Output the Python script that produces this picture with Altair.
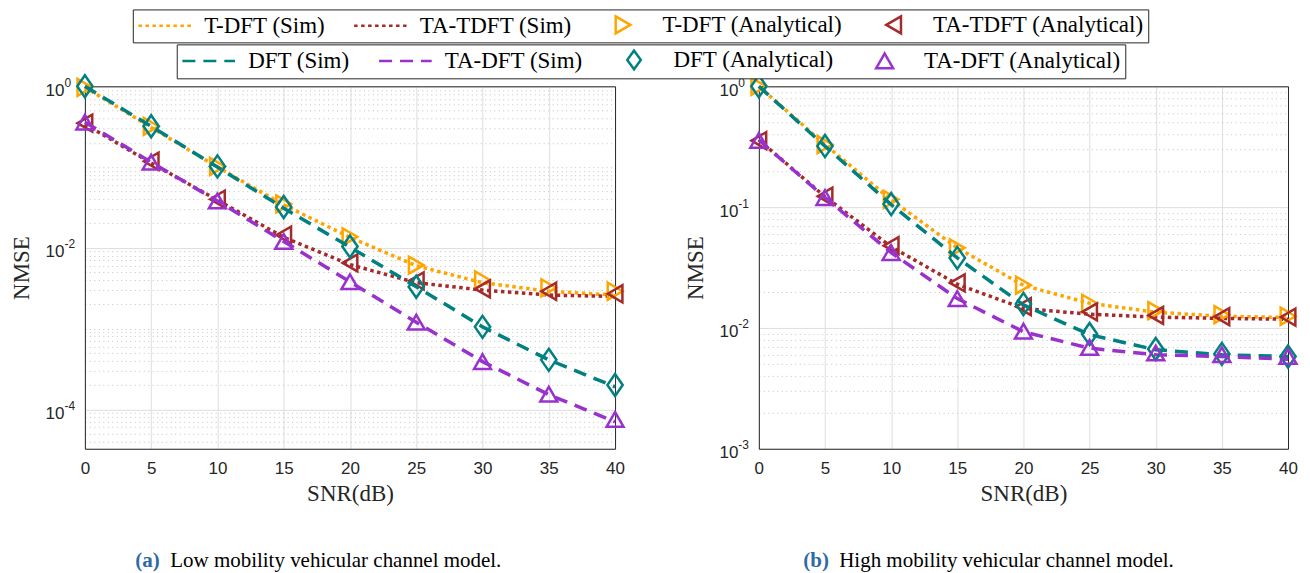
import altair as alt
import pandas as pd

SNR = [0, 5, 10, 15, 20, 25, 30, 35, 40]
SNR_TICKS = [0, 5, 10, 15, 20, 25, 30, 35, 40]

GROUP_A = ["T-DFT (Sim)", "TA-TDFT (Sim)", "T-DFT (Analytical)", "TA-TDFT (Analytical)"]
GROUP_B = ["DFT (Sim)", "TA-DFT (Sim)", "DFT (Analytical)", "TA-DFT (Analytical)"]
SIM_A = ["T-DFT (Sim)", "TA-TDFT (Sim)"]
ANA_A = ["T-DFT (Analytical)", "TA-TDFT (Analytical)"]
SIM_B = ["DFT (Sim)", "TA-DFT (Sim)"]
ANA_B = ["DFT (Analytical)", "TA-DFT (Analytical)"]

# (a) low mobility
low_tdft_sim = [0.97, 0.31, 0.1, 0.034, 0.0135, 0.006, 0.0037, 0.0029, 0.0026]
low_tatdft_sim = [0.34, 0.112, 0.039, 0.0135, 0.0062, 0.0037, 0.003, 0.0026, 0.0025]
low_tdft_ana = [0.97, 0.32, 0.102, 0.035, 0.0137, 0.0061, 0.004, 0.0032, 0.0029]
low_tatdft_ana = [0.35, 0.118, 0.04, 0.0144, 0.0065, 0.0039, 0.0031, 0.0029, 0.0027]
low_dft_sim = [1.0, 0.32, 0.1, 0.031, 0.0102, 0.0033, 0.00105, 0.00041, 0.00019]
low_tadft_sim = [0.36, 0.115, 0.038, 0.012, 0.0038, 0.0012, 0.00039, 0.000152, 0.00007]
low_dft_ana = [1.0, 0.32, 0.102, 0.032, 0.0104, 0.0033, 0.00105, 0.00041, 0.0002]
low_tadft_ana = [0.36, 0.115, 0.038, 0.012, 0.0038, 0.0012, 0.00039, 0.000154, 0.000075]

# (b) high mobility
high_tdft_sim = [1.0, 0.33, 0.115, 0.046, 0.0225, 0.016, 0.0135, 0.0125, 0.0122]
high_tatdft_sim = [0.36, 0.122, 0.047, 0.023, 0.0145, 0.013, 0.0123, 0.012, 0.0118]
high_tdft_ana = [1.0, 0.33, 0.116, 0.046, 0.0226, 0.016, 0.0139, 0.0129, 0.0125]
high_tatdft_ana = [0.355, 0.123, 0.048, 0.0236, 0.015, 0.0136, 0.0127, 0.0124, 0.0123]
high_dft_sim = [1.0, 0.32, 0.105, 0.038, 0.0155, 0.0088, 0.0066, 0.006, 0.0058]
high_tadft_sim = [0.36, 0.12, 0.042, 0.0175, 0.0093, 0.0068, 0.006, 0.0058, 0.0055]
high_dft_ana = [1.0, 0.32, 0.106, 0.038, 0.0158, 0.0089, 0.0067, 0.0061, 0.0058]
high_tadft_ana = [0.357, 0.12, 0.042, 0.0175, 0.0094, 0.0069, 0.0062, 0.006, 0.0058]

LOW_DOMAIN = [3.25e-5, 1]
HIGH_DOMAIN = [1e-3, 1]
LOW_MAJOR = [1, 1e-2, 1e-4]
HIGH_MAJOR = [1, 1e-1, 1e-2, 1e-3]
MINOR_MULT = [2, 3, 4, 5, 6, 7, 8, 9]
LOW_MINOR = [m * 10.0 ** k for k in range(-5, 0) for m in MINOR_MULT if 3.3e-5 < m * 10.0 ** k < 1] + [1e-1, 1e-3]
HIGH_MINOR = [m * 10.0 ** k for k in range(-3, 0) for m in MINOR_MULT]

ORANGE = "#FFA500"
BROWN = "#A52A2A"
TEAL = "#008080"
PURPLE = "#9932CC"
CAP_BLUE = "#2f6aa3"
AXIS_GRAY = "#262626"
SERIF = "Liberation Serif"

LINE_PATH = "M-3.1,0H3.1"
DIAMOND = "M0,-1.3L0.9,0L0,1.3L-0.9,0Z"
LEGEND_DIAMOND = "M0,-1.1L0.8,0L0,1.1L-0.8,0Z"


def build(values):
    rows = []
    for name, ys in values.items():
        for x, y in zip(SNR, ys):
            rows.append({"snr": x, "nmse": y, "series": name})
    return pd.DataFrame(rows)


low_df = build({
    "T-DFT (Sim)": low_tdft_sim, "TA-TDFT (Sim)": low_tatdft_sim,
    "T-DFT (Analytical)": low_tdft_ana, "TA-TDFT (Analytical)": low_tatdft_ana,
    "DFT (Sim)": low_dft_sim, "TA-DFT (Sim)": low_tadft_sim,
    "DFT (Analytical)": low_dft_ana, "TA-DFT (Analytical)": low_tadft_ana,
})
high_df = build({
    "T-DFT (Sim)": high_tdft_sim, "TA-TDFT (Sim)": high_tatdft_sim,
    "T-DFT (Analytical)": high_tdft_ana, "TA-TDFT (Analytical)": high_tatdft_ana,
    "DFT (Sim)": high_dft_sim, "TA-DFT (Sim)": high_tadft_sim,
    "DFT (Analytical)": high_dft_ana, "TA-DFT (Analytical)": high_tadft_ana,
})

stroke_scale = alt.Scale(domain=GROUP_A, range=[ORANGE, BROWN, ORANGE, BROWN])
color_scale = alt.Scale(domain=GROUP_B, range=[TEAL, PURPLE, TEAL, PURPLE])
dash_scale = alt.Scale(domain=SIM_A + SIM_B, range=[[3.5, 3.5], [3.5, 3.5], [13, 8], [13, 8]])
shape_scale = alt.Scale(domain=ANA_A + ANA_B, range=["triangle-right", "triangle-left", DIAMOND, "triangle-up"])


def legend(sym_expr, dash_expr, lx, ly):
    return alt.Legend(
        title=None, orient="none", legendX=lx, legendY=ly,
        direction="horizontal", columns=4,
        symbolType=alt.ExprRef(expr=sym_expr),
        symbolDash=alt.ExprRef(expr=dash_expr),
        symbolSize=289, symbolStrokeWidth=2.5, symbolFillColor="transparent",
        symbolOffset=16.5, labelOffset=28, columnPadding=23, padding=4,
        labelFont=SERIF, labelFontSize=23, labelColor="black", labelLimit=500,
        strokeColor=AXIS_GRAY, fillColor="white", cornerRadius=0,
    )


legend_a = legend(
    f"indexof(datum.value, 'Sim') >= 0 ? '{LINE_PATH}' : (indexof(datum.value, 'TA-') >= 0 ? 'triangle-left' : 'triangle-right')",
    "indexof(datum.value, 'Sim') >= 0 ? [3.5, 3.5] : [1, 0]",
    48, -77,
)
legend_b = legend(
    f"indexof(datum.value, 'Sim') >= 0 ? '{LINE_PATH}' : (indexof(datum.value, 'TA-') >= 0 ? 'triangle-up' : '{LEGEND_DIAMOND}')",
    "indexof(datum.value, 'Sim') >= 0 ? [13, 8] : [1, 0]",
    92, -42,
)

EXP_EXPR = ("datum.value >= 0.5 ? '0' : datum.value >= 0.05 ? '-1' : "
            "datum.value >= 0.005 ? '-2' : datum.value >= 0.0005 ? '-3' : '-4'")

LBL = dict(labelFont="Liberation Sans", labelColor=AXIS_GRAY, labelFlush=False, labelOverlap=False)


def panel(df, ydom, major, minor, edge_test, cap_letter, cap_text, width, capx1, capx2):
    xscale = alt.Scale(domain=[0, 40], nice=False, zero=False)
    yscale = alt.Scale(type="log", domain=ydom, nice=False)

    x_main = alt.Axis(
        values=SNR_TICKS, orient="bottom", title="SNR(dB)", grid=True, gridColor="#dedede",
        gridOpacity={"condition": {"test": "datum.value == 0 || datum.value == 40", "value": 0}, "value": 1},
        domain=True, domainColor=AXIS_GRAY, domainWidth=1, ticks=False,
        labelFontSize=17, labelPadding=12, **LBL,
        titleFont=SERIF, titleFontSize=23, titleFontWeight="normal", titleColor=AXIS_GRAY,
        titleY=52, titleBaseline="alphabetic",
    )
    y_major = alt.Axis(
        values=major, orient="left", title="NMSE", grid=True, gridColor="#dedede",
        gridOpacity={"condition": {"test": edge_test, "value": 0}, "value": 1},
        domain=True, domainColor=AXIS_GRAY, domainWidth=1, ticks=False, labelExpr="'10'",
        labelFontSize=17, labelPadding=21, labelBaseline="middle", labelOffset=4, **LBL,
        titleFont=SERIF, titleFontSize=23, titleFontWeight="normal", titleColor=AXIS_GRAY,
        titleX=-56, titleBaseline="alphabetic",
    )
    y_minor = alt.Axis(
        values=minor, orient="left", title=None, grid=True, gridColor="#c2c2c2", gridDash=[1, 3.5],
        labels=False, ticks=False, domain=False,
    )
    y_exp = alt.Axis(
        values=major, orient="left", title=None, grid=False, ticks=False, domain=False,
        labelExpr=EXP_EXPR, labelFontSize=12, labelPadding=21, labelAlign="left",
        labelBaseline="alphabetic", **LBL,
    )
    x_cap1 = alt.Axis(
        orient="bottom", title=cap_letter, labels=False, ticks=False, domain=False, grid=False,
        titleX=capx1, titleY=118, titleAlign="left", titleBaseline="alphabetic", titleLimit=1000,
        titleFont=SERIF, titleFontSize=21, titleFontWeight="bold", titleColor=CAP_BLUE,
    )
    x_cap2 = alt.Axis(
        orient="bottom", title=cap_text, labels=False, ticks=False, domain=False, grid=False,
        titleX=capx2, titleY=118, titleAlign="left", titleBaseline="alphabetic", titleLimit=1000,
        titleFont=SERIF, titleFontSize=21, titleFontWeight="normal", titleColor="black",
    )
    x_top = alt.Axis(orient="top", title=None, labels=False, ticks=False, grid=False,
                     domain=True, domainColor=AXIS_GRAY, domainWidth=1)
    y_right = alt.Axis(orient="right", title=None, labels=False, ticks=False, grid=False,
                       domain=True, domainColor=AXIS_GRAY, domainWidth=1)

    base = alt.Chart(df)

    lines_a = base.transform_filter(alt.FieldOneOfPredicate(field="series", oneOf=SIM_A)).mark_line(
        strokeWidth=3.5, strokeCap="butt"
    ).encode(
        x=alt.X("snr:Q", scale=xscale, axis=x_main),
        y=alt.Y("nmse:Q", scale=yscale, axis=y_major),
        stroke=alt.Stroke("series:N", scale=stroke_scale, legend=legend_a),
        strokeDash=alt.StrokeDash("series:N", scale=dash_scale, legend=None),
    )
    points_a = base.transform_filter(alt.FieldOneOfPredicate(field="series", oneOf=ANA_A)).mark_point(
        filled=False, strokeWidth=2.5, size=289, opacity=1
    ).encode(
        x=alt.X("snr:Q", scale=xscale, axis=x_cap1),
        y=alt.Y("nmse:Q", scale=yscale, axis=y_minor),
        stroke=alt.Stroke("series:N", scale=stroke_scale, legend=legend_a),
        shape=alt.Shape("series:N", scale=shape_scale, legend=None),
    )
    lines_b = base.transform_filter(alt.FieldOneOfPredicate(field="series", oneOf=SIM_B)).mark_line(
        strokeWidth=3.5, strokeCap="butt"
    ).encode(
        x=alt.X("snr:Q", scale=xscale, axis=x_cap2),
        y=alt.Y("nmse:Q", scale=yscale, axis=y_exp),
        color=alt.Color("series:N", scale=color_scale, legend=legend_b),
        strokeDash=alt.StrokeDash("series:N", scale=dash_scale, legend=None),
    )
    points_b = base.transform_filter(alt.FieldOneOfPredicate(field="series", oneOf=ANA_B)).mark_point(
        filled=False, strokeWidth=2.5, size=289, opacity=1
    ).encode(
        x=alt.X("snr:Q", scale=xscale, axis=x_top),
        y=alt.Y("nmse:Q", scale=yscale, axis=y_right),
        color=alt.Color("series:N", scale=color_scale, legend=legend_b),
        shape=alt.Shape("series:N", scale=shape_scale, legend=None),
    )
    return alt.layer(lines_a, points_a, lines_b, points_b).resolve_axis(
        x="independent", y="independent"
    ).properties(width=width, height=363)


left = panel(low_df, LOW_DOMAIN, LOW_MAJOR, LOW_MINOR, "datum.value >= 0.999",
             "(a)", "Low mobility vehicular channel model.", 531, 50, 85)
right = panel(high_df, HIGH_DOMAIN, HIGH_MAJOR, HIGH_MINOR, "datum.value >= 0.999 || datum.value <= 0.00101",
              "(b)", "High mobility vehicular channel model.", 530, 44, 80)

chart = alt.hconcat(left, right, spacing=55).properties(
    padding={"left": 2, "top": 0, "right": 0, "bottom": 0}
).configure_view(
    stroke=None
).configure_legend(
    labelFont=SERIF, labelFontSize=23, labelColor="black"
).configure(background="white")

chart.save("out.html", embed_options={"renderer": "svg", "actions": False})
